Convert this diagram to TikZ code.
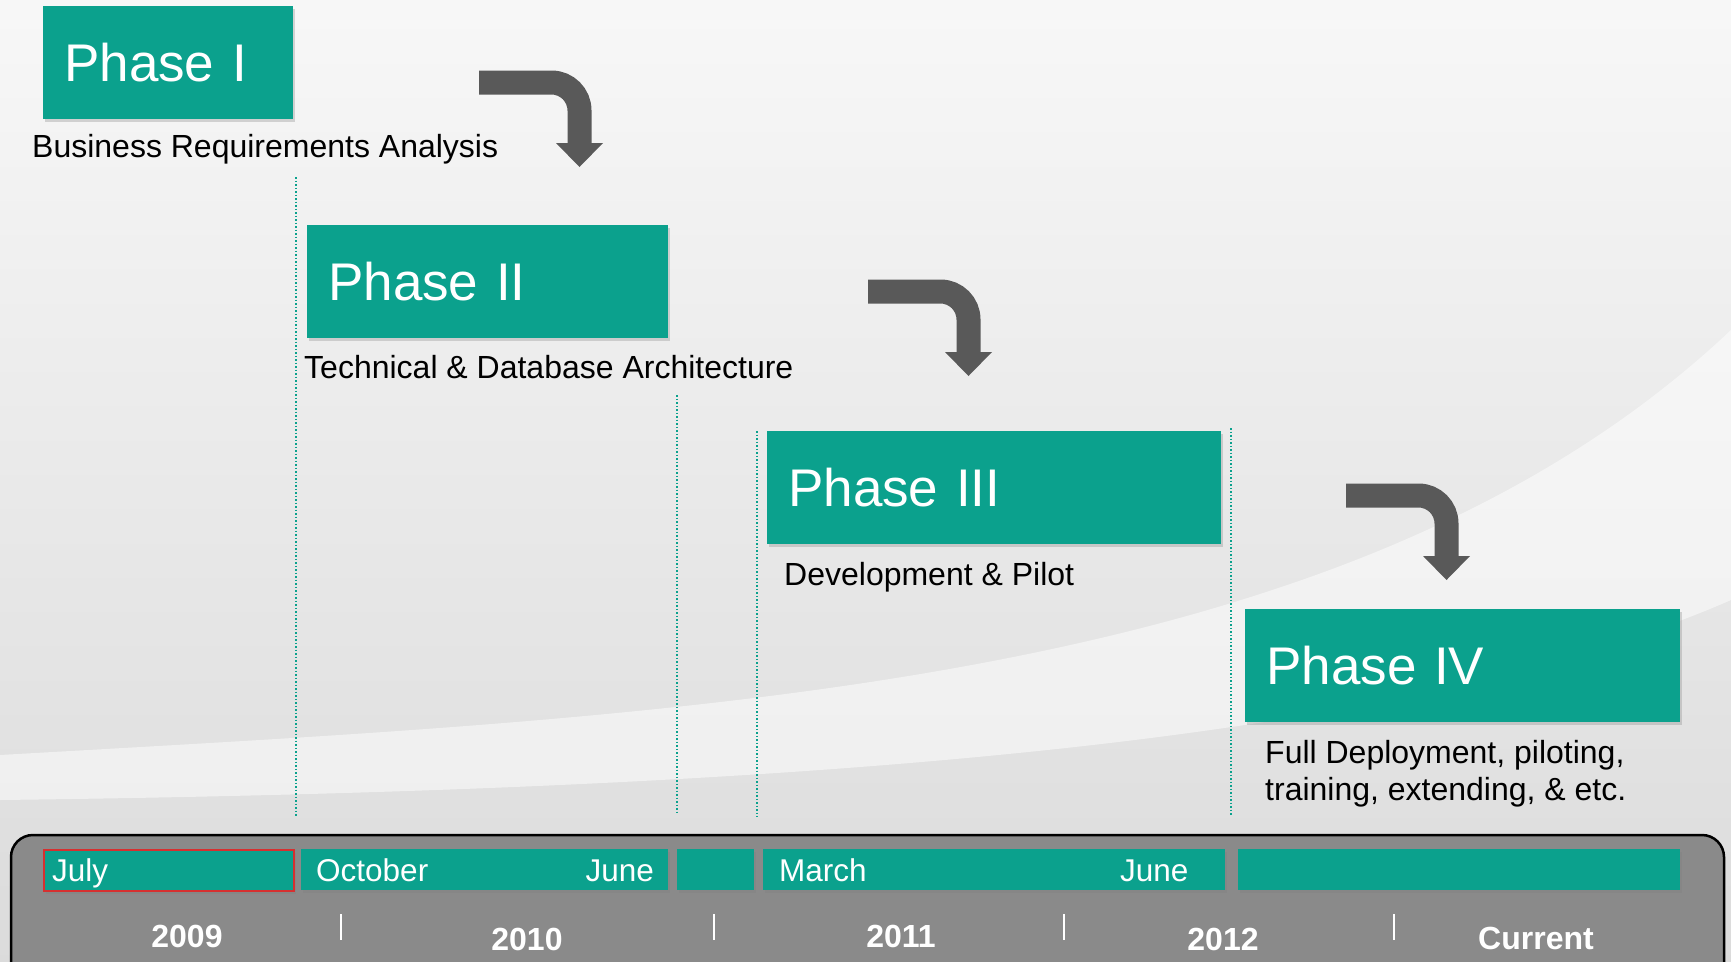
\documentclass[tikz,border=0pt]{standalone}
\usepackage{fontspec}
\setmainfont{Liberation Sans}
\usetikzlibrary{arrows,%
	shadows}

\definecolor{phaseteal}{RGB}{11,161,141}
\definecolor{arrowgray}{RGB}{89,89,89}
\definecolor{panelgray}{RGB}{138,138,138}
\definecolor{julyred}{RGB}{214,48,48}

\tikzset{
	phasebox/.style={fill=phaseteal, text=white, anchor=north west, inner xsep=21pt, inner ysep=0pt,
		minimum height=113pt, align=left, font=\fontsize{53}{60}\selectfont,
		drop shadow={opacity=0.3, shadow xshift=2pt, shadow yshift=-3pt}},
	phasetext/.style={anchor=base west, inner sep=0pt, align=left, font=\fontsize{32}{37}\selectfont},
	monthbar/.style={fill=phaseteal, anchor=north west, minimum height=41pt, inner sep=0pt,
		drop shadow={opacity=0.35, shadow xshift=2pt, shadow yshift=-3pt}},
	monthtext/.style={text=white, anchor=base west, inner sep=0pt, font=\fontsize{31.5}{37}\selectfont},
	yeartext/.style={text=white, anchor=base, inner sep=0pt, font=\fontsize{32}{38}\selectfont\bfseries},
	guide/.style={phaseteal, dotted, line width=1.5pt},
	turnarrow/.pic={
		\draw[arrowgray, line width=24pt, rounded corners=28pt] (0,0) -- (100.5,0) -- (100.5,62);
		\fill[arrowgray] (77,60.5) -- (124,60.5) -- (100.5,84.5) -- cycle;
	}
}

\begin{document}
\begin{tikzpicture}[x=1pt, y=-1pt]
			\useasboundingbox (0,0) rectangle (1731,961);
			\shade[top color=black!3, bottom color=black!14] (0,0) rectangle (1731,961);
			\fill[white, opacity=0.5] (0,755) .. controls (700,715) and (1350,690) .. (1731,330)
				-- (1731,600) .. controls (1400,745) and (800,790) .. (0,800) -- cycle;
			% phases
			\node[phasebox, text width=208pt] (p1) at (43,6) {Phase I};
			\node[phasebox, text width=319pt] (p2) at (307,225) {Phase II};
			\node[phasebox, text width=412pt] (p3) at (767,431) {Phase III};
			\node[phasebox, text width=393pt] (p4) at (1245,609) {Phase IV};
			\node[phasetext] (d1) at (32,157) {Business Requirements Analysis};
			\node[phasetext] (d2) at (304,378) {Technical \& Database Architecture};
			\node[phasetext] (d3) at (784,585) {Development \& Pilot};
			\node[phasetext] (d4) at (1265,800) {Full Deployment, piloting,\\training, extending, \& etc.};
			\pic at (479,82.5) {turnarrow};
			\pic at (868,291.5) {turnarrow};
			\pic at (1346,495.5) {turnarrow};
			\draw[guide] (296,177) -- (296,817);
			\draw[guide] (677,395) -- (677,815);
			\draw[guide] (757,431) -- (757,817);
			\draw[guide] (1231,428) -- (1231,815);
			% timeline
			\draw[fill=panelgray, line width=2.5pt, rounded corners=22pt] (11,835) rectangle (1724,1000);
			\node[monthbar, minimum width=250pt, draw=julyred, line width=2pt] (m1) at (43,849) {};
			\node[monthbar, minimum width=367pt] (m2) at (301,849) {};
			\node[monthbar, minimum width=77pt] (m3) at (677,849) {};
			\node[monthbar, minimum width=462pt] (m4) at (763,849) {};
			\node[monthbar, minimum width=442pt] (m5) at (1238,849) {};
			\node[monthtext] (jul) at (52,881) {July};
			\node[monthtext] (oct) at (316,881) {October};
			\node[monthtext, anchor=base east] (jun1) at (654,881) {June};
			\node[monthtext] (mar) at (779,881) {March};
			\node[monthtext] (jun2) at (1120,881) {June};
			\node[yeartext] (y09) at (187,947) {2009};
			\node[yeartext] (y10) at (527,950) {2010};
			\node[yeartext] (y11) at (901,947) {2011};
			\node[yeartext] (y12) at (1223,950) {2012};
			\node[yeartext] (cur) at (1536,949) {Current};
			\foreach \tx in {341,714,1064,1394}
				\draw[white, line width=1.5pt] (\tx,914) -- (\tx,940);
			\end{tikzpicture}
\end{document}
